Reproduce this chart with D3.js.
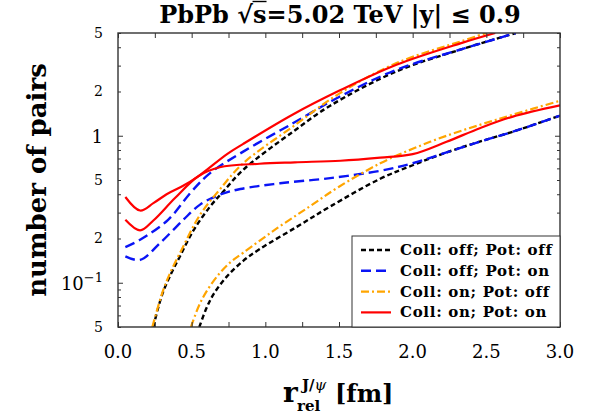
<!DOCTYPE html>
<html>
<head>
<meta charset="utf-8">
<script src="https://cdn.jsdelivr.net/npm/d3@7"></script>
<style>
  html, body { margin: 0; padding: 0; background: #fff; }
  svg { display: block; }
  text { font-family: "DejaVu Serif", "Liberation Serif", serif; fill: #000; }
</style>
</head>
<body>
<svg id="chart" width="596" height="419"></svg>
<script>
// r_rel grids (fm) and pair numbers for each configuration; "Hi" and "Lo" are the two branches
const rOffOffHi = [0.24, 0.27, 0.307, 0.36, 0.42, 0.51, 0.625, 0.715, 0.85, 1.19, 1.44, 1.89, 2.34, 2.70];
const nOffOffHi = [0.05, 0.066, 0.087, 0.115, 0.151, 0.225, 0.33, 0.418, 0.587, 1.07, 1.6, 2.74, 3.9, 5.0];
const rOffOffLo = [0.552, 0.6, 0.65, 0.738, 0.85, 0.964, 1.213, 1.44, 1.78, 2.0, 2.23, 2.46, 2.68, 3.0];
const nOffOffLo = [0.05, 0.067, 0.084, 0.11, 0.141, 0.17, 0.24, 0.33, 0.51, 0.63, 0.77, 0.915, 1.065, 1.37];

const rOffOnHi = [0.05, 0.15, 0.34, 0.5, 0.625, 0.85, 1.19, 1.507, 1.89, 2.34, 2.70];
const nOffOnHi = [0.175, 0.196, 0.268, 0.418, 0.557, 0.78, 1.22, 1.85, 2.81, 3.9, 5.0];
const rOffOnLo = [0.05, 0.15, 0.285, 0.443, 0.557, 0.69, 0.83, 1.1, 1.44, 1.78, 2.0, 2.23, 2.46, 2.68, 3.0];
const nOffOnLo = [0.151, 0.143, 0.186, 0.268, 0.34, 0.397, 0.434, 0.475, 0.515, 0.578, 0.65, 0.77, 0.915, 1.065, 1.37];

const rOnOffHi = [0.233, 0.30, 0.353, 0.432, 0.557, 0.69, 0.85, 1.19, 1.507, 1.89, 2.34, 2.50];
const nOnOffHi = [0.05, 0.085, 0.116, 0.168, 0.29, 0.43, 0.65, 1.16, 1.95, 3.12, 4.43, 5.0];
const rOnOffLo = [0.495, 0.55, 0.6, 0.68, 0.76, 0.85, 1.08, 1.3, 1.5, 1.78, 2.0, 2.23, 2.46, 2.68, 3.0];
const nOnOffLo = [0.05, 0.07, 0.087, 0.113, 0.137, 0.16, 0.235, 0.33, 0.45, 0.65, 0.815, 1.0, 1.19, 1.39, 1.73];

const rOnOnHi = [0.05, 0.15, 0.24, 0.33, 0.43, 0.545, 0.74, 0.85, 1.19, 1.5, 1.89, 2.34, 2.56];
const nOnOnHi = [0.383, 0.31, 0.348, 0.40, 0.45, 0.53, 0.75, 0.88, 1.40, 2.02, 3.04, 4.3, 5.0];
const rOnOnLo = [0.05, 0.15, 0.24, 0.387, 0.545, 0.69, 0.96, 1.2, 1.51, 1.78, 2.0, 2.23, 2.46, 2.68, 3.0];
const nOnOnLo = [0.268, 0.227, 0.265, 0.377, 0.53, 0.61, 0.645, 0.66, 0.676, 0.71, 0.75, 0.91, 1.13, 1.35, 1.61];

const legendLabels = ["Coll: off; Pot: off", "Coll: off; Pot: on", "Coll: on; Pot: off", "Coll: on; Pot: on"];

const xTickValues = [0, 0.5, 1.0, 1.5, 2.0, 2.5, 3.0];
const xTickLabels = ["0.0", "0.5", "1.0", "1.5", "2.0", "2.5", "3.0"];
const yTickValues = [0.05, 0.1, 0.2, 0.5, 1, 2, 5];
const yTickLabels = ["5", "10|−1", "2", "5", "1", "2", "5"];

// line styles per configuration
const styles = [
  { color: "#000000", dash: "5,3",      width: 2.4 },
  { color: "#0a14f5", dash: "10,5",     width: 2.4 },
  { color: "#ffa500", dash: "8,3,2,3",  width: 2.2 },
  { color: "#ff0000", dash: null,       width: 2.2 }
];

const series = [
  { cfg: 0, r: rOffOffHi, n: nOffOffHi }, { cfg: 0, r: rOffOffLo, n: nOffOffLo },
  { cfg: 1, r: rOffOnHi,  n: nOffOnHi  }, { cfg: 1, r: rOffOnLo,  n: nOffOnLo  },
  { cfg: 2, r: rOnOffHi,  n: nOnOffHi  }, { cfg: 2, r: rOnOffLo,  n: nOnOffLo  },
  { cfg: 3, r: rOnOnHi,   n: nOnOnHi   }, { cfg: 3, r: rOnOnLo,   n: nOnOnLo   }
];

const svg = d3.select("#chart");
const W = 596, H = 419;
const m = { left: 118, right: 36, top: 33, bottom: 92 };
const x = d3.scaleLinear().domain([0, 3]).range([m.left, W - m.right]);
const y = d3.scaleLog().domain([0.05, 5]).range([H - m.bottom, m.top]);
const x0 = x.range()[0], x1 = x.range()[1], y0 = y.range()[0], y1 = y.range()[1];

svg.append("rect").attr("width", W).attr("height", H).attr("fill", "#fff");

svg.append("clipPath").attr("id", "plotClip")
  .append("rect").attr("x", x0).attr("y", y1).attr("width", x1 - x0).attr("height", y0 - y1);

// curves
const line = d3.line().x(d => x(d[0])).y(d => y(d[1])).curve(d3.curveCatmullRom.alpha(0.5));
const gLines = svg.append("g").attr("clip-path", "url(#plotClip)");
series.forEach(s => {
  const st = styles[s.cfg];
  gLines.append("path")
    .datum(s.r.map((r, i) => [r, s.n[i]]))
    .attr("d", line)
    .attr("fill", "none")
    .attr("stroke", st.color)
    .attr("stroke-width", st.width)
    .attr("stroke-dasharray", st.dash)
    .attr("stroke-linejoin", "round");
});

// frame + inward ticks on all four sides
const axisColor = "#333";
const xMinor = d3.range(0, 3.001, 0.25);
const yAll = [];
[0.01, 0.1, 1].forEach(dec => { for (let k = 1; k <= 9; k++) { const v = +(k * dec).toPrecision(3); if (v >= 0.05 && v <= 5) yAll.push(v); } });

svg.append("g").attr("transform", `translate(0,${y0})`)
  .call(d3.axisBottom(x).tickValues(xMinor).tickSize(-5).tickFormat(""))
  .call(g => g.select(".domain").remove())
  .call(g => g.selectAll("line").attr("stroke", axisColor));
svg.append("g").attr("transform", `translate(0,${y1})`)
  .call(d3.axisTop(x).tickValues(xMinor).tickSize(-5).tickFormat(""))
  .call(g => g.select(".domain").remove())
  .call(g => g.selectAll("line").attr("stroke", axisColor));
[["left", x0, d3.axisLeft], ["right", x1, d3.axisRight]].forEach(([side, px, ax]) => {
  svg.append("g").attr("transform", `translate(${px},0)`)
    .call(ax(y).tickValues(yAll).tickSize(-3).tickFormat(""))
    .call(g => g.select(".domain").remove())
    .call(g => g.selectAll("line").attr("stroke", axisColor))
    .call(g => g.selectAll(".tick").filter(d => [0.1, 1].includes(d))
      .select("line").attr("x2", side === "left" ? 5 : -5));
});
svg.append("rect").attr("x", x0).attr("y", y1).attr("width", x1 - x0).attr("height", y0 - y1)
  .attr("fill", "none").attr("stroke", axisColor).attr("stroke-width", 1.4);

// x tick labels
svg.append("g").selectAll("text").data(xTickValues).join("text")
  .attr("x", d => x(d)).attr("y", y0 + 31)
  .attr("text-anchor", "middle").attr("font-size", 18)
  .text((d, i) => xTickLabels[i]);

// y tick labels (decades drawn larger, with exponent)
const gy = svg.append("g");
yTickValues.forEach((v, i) => {
  const lab = yTickLabels[i];
  const isDecade = Math.abs(Math.log10(v) - Math.round(Math.log10(v))) < 1e-9;
  const t = gy.append("text").attr("x", x0 - 15).attr("y", y(v) + (isDecade ? 7 : 5))
    .attr("text-anchor", "end").attr("font-size", isDecade ? 18 : 14);
  if (lab.includes("|")) {
    const [base, exp] = lab.split("|");
    t.append("tspan").text(base);
    t.append("tspan").attr("font-size", 13).attr("dy", -8).text(exp);
  } else {
    t.text(lab);
  }
});

// title
const title = svg.append("text").attr("x", (x0 + x1) / 2 + 1).attr("y", 23)
  .attr("text-anchor", "middle").attr("font-size", 24).attr("font-weight", "bold")
  .text("PbPb √s=5.02 TeV |y| ≤ 0.9");
{
  const node = title.node();
  const iRad = node.textContent.indexOf("√");
  const a = node.getEndPositionOfChar(iRad);
  const b = node.getEndPositionOfChar(iRad + 1);
  const bb = node.getExtentOfChar(iRad);
  svg.append("line").attr("x1", a.x - 0.5).attr("x2", b.x)
    .attr("y1", bb.y + 1.5).attr("y2", bb.y + 1.5)
    .attr("stroke", "#000").attr("stroke-width", 1.4);
}

// axis titles
svg.append("text").attr("transform", `translate(46,${(y0 + y1) / 2}) rotate(-90)`)
  .attr("text-anchor", "middle").attr("font-size", 26).attr("font-weight", "bold")
  .text("number of pairs");

const xl = svg.append("g").attr("font-weight", "bold");
xl.append("text").attr("x", 283).attr("y", 402).attr("font-size", 28).text("r");
xl.append("text").attr("x", 297).attr("y", 411).attr("font-size", 15).text("rel");
const sup = xl.append("text").attr("x", 302).attr("y", 390).attr("font-size", 15);
sup.append("tspan").text("J/");
sup.append("tspan").attr("font-weight", "normal").attr("font-style", "italic").text("ψ");
xl.append("text").attr("x", 335).attr("y", 402).attr("font-size", 24).text("[fm]");

// legend
const lg = svg.append("g");
lg.append("rect").attr("x", 352).attr("y", 236).attr("width", x1 - 352).attr("height", y0 - 236)
  .attr("fill", "#fff").attr("stroke", axisColor).attr("stroke-width", 1);
legendLabels.forEach((lab, i) => {
  const st = styles[i];
  const yy = 250 + i * 20.8;
  lg.append("line").attr("x1", 361).attr("x2", 391).attr("y1", yy).attr("y2", yy)
    .attr("stroke", st.color).attr("stroke-width", st.width).attr("stroke-dasharray", st.dash);
  lg.append("text").attr("x", 400).attr("y", yy + 5).attr("font-size", 15)
    .attr("font-weight", "bold").attr("letter-spacing", 0.7).text(lab);
});
</script>
</body>
</html>
